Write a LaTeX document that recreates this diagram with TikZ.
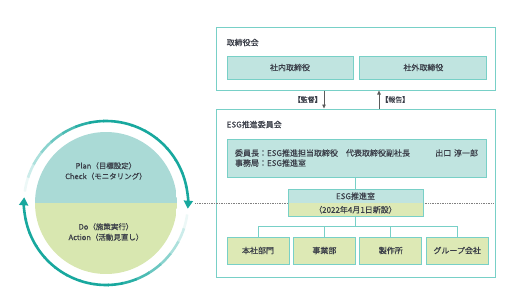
\documentclass[tikz,border=0pt]{standalone}
\usepackage{fontspec}
\setmainfont{Noto Sans CJK JP}[FakeBold=0.5]
\usepackage{xcolor}
\usepackage{tikz}
\usetikzlibrary{positioning,arrows.meta,shapes.multipart}
\definecolor{dLine}{RGB}{120,208,199}
\definecolor{dFill}{RGB}{192,228,224}
\definecolor{dFill2}{RGB}{221,233,181}
\definecolor{dText}{RGB}{58,62,72}
\definecolor{dRing}{RGB}{24,168,158}
\definecolor{dCirc}{RGB}{170,218,214}
\definecolor{dCirc2}{RGB}{216,231,176}
\definecolor{dGray}{RGB}{90,90,90}
\tikzset{
  frame/.style={rectangle, draw=dLine, line width=1pt, fill=white, inner sep=0pt},
  ttl/.style={anchor=west, inner sep=0pt, text=dText},
  comp/.style={rectangle, draw=dLine, fill=dFill, line width=0.9pt,
               minimum height=23pt, align=center, text=dText, inner sep=2pt},
  unit/.style={comp, fill=dFill2, minimum width=62pt, minimum height=27pt},
  office/.style={rectangle split, rectangle split parts=2,
                 rectangle split part fill={dFill,dFill2},
                 rectangle split draw splits=false, draw=dLine, line width=0.9pt,
                 minimum width=135pt, inner ysep=2.6pt, text=dText, align=center},
  flow/.style={-{Triangle[length=4pt, width=3.5pt]}, draw=dGray, line width=0.6pt},
  tree/.style={draw=dLine, line width=0.9pt},
  guide/.style={draw=gray, line width=0.5pt, dash pattern=on 1pt off 0.7pt},
  lbl/.style={font=\fontsize{7}{8}\selectfont, text=dText, inner sep=2pt},
  ring/.style={line width=2.6pt},
  pdca/.style={circle, minimum size=142pt, inner sep=0pt,
               path picture={
                 \fill[dCirc] (path picture bounding box.north west) rectangle (path picture bounding box.east);
                 \fill[dCirc2] (path picture bounding box.west) rectangle (path picture bounding box.south east);}},
  ctext/.style={align=center, text=dText, font=\fontsize{7.5}{10.5}\selectfont},
}

\begin{document}
\begin{tikzpicture}[x=1pt, y=1pt, font=\fontsize{8}{10}\selectfont]
  \useasboundingbox (0,0) rectangle (520,-303);
  % PDCA cycle
  \node[pdca] (cyc) at (106,-203) {};
  \node[ctext] (plan) at (106,-171) {Plan（目標設定）\\Check（モニタリング）};
  \node[ctext] (act) at (106,-232) {Do（施策実行）\\Action（活動見直し）};
  \foreach \k in {0,...,15}{
    \pgfmathsetmacro\sa{172-10*\k}
    \pgfmathtruncatemacro\pc{min(100,8+14*\k)}
    \draw[ring, draw=dRing!\pc!white] (cyc.center) ++(\sa:82) arc[start angle=\sa, delta angle=-10.6, radius=82];
    \pgfmathsetmacro\sb{-8-10*\k}
    \draw[ring, draw=dRing!\pc!white] (cyc.center) ++(\sb:82) arc[start angle=\sb, delta angle=-10.6, radius=82];
  }
  \draw[ring, dRing, -{Triangle[length=8pt, width=9pt]}] (cyc.center) ++(12:82) arc[start angle=12, end angle=-4, radius=82];
  \draw[ring, dRing, -{Triangle[length=8pt, width=9pt]}] (cyc.center) ++(-168:82) arc[start angle=-168, end angle=-184, radius=82];

  % board and committee
  \node[frame, minimum width=279pt, minimum height=63pt] (board) at (355.5,-58.5) {};
  \node[ttl] (boardT) at ([xshift=11pt, yshift=-16pt]board.north west) {取締役会};
  \node[comp, minimum width=126pt] (inA) at (290,-67.5) {社内取締役};
  \node[comp, minimum width=127pt, right=6pt of inA] (inB) {社外取締役};

  \node[frame, minimum width=279pt, minimum height=168pt] (esgc) at (355.5,-193) {};
  \node[ttl] (esgcT) at ([xshift=11pt, yshift=-16pt]esgc.north west) {ESG推進委員会};
  \draw[guide] ([xshift=18pt]cyc.east) -- ([xshift=-1.5pt]cyc.east -| esgc.east);

  \draw[flow] ([xshift=-31.5pt]board.south) -- node[lbl, left] {【監督】} ([xshift=-31.5pt]esgc.north);
  \draw[flow] ([xshift=23.5pt]esgc.north) -- node[lbl, right] {【報告】} ([xshift=23.5pt]board.south);

  \node[comp, fill=dFill, minimum width=259pt, minimum height=38pt, text width=243pt,
        align=left, inner xsep=8pt] (members) at (356.5,-158)
    {委員長：ESG推進担当取締役\quad 代表取締役副社長\hfill 出口 淳一郎\\事務局：ESG推進室};
  \node[office] (office) at (355.5,-203) {ESG推進室\nodepart{two}（2022年4月1日新設）};
  \draw[tree] (office.north) -- (office.north |- members.south);

  \node[unit] (u1) at (258,-250.5) {本社部門};
  \node[unit, right=3.5pt of u1] (u2) {事業部};
  \node[unit, right=3.5pt of u2] (u3) {製作所};
  \node[unit, right=3.5pt of u3] (u4) {グループ会社};
  \draw[tree] (office.south) -- ++(0,-9) coordinate (hub);
  \foreach \n in {u1,u2,u3,u4}
    \draw[tree] (hub) -| (\n.north);
\end{tikzpicture}
\end{document}
